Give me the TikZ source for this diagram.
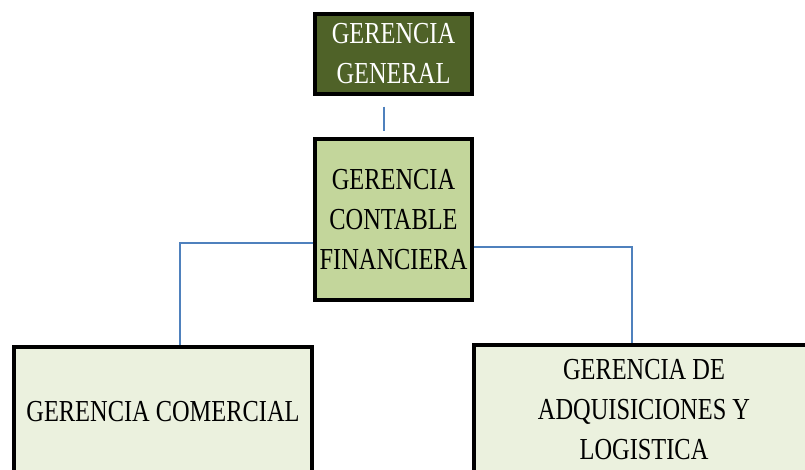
\documentclass[tikz,border=0pt]{standalone}
\usepackage{fontspec}
\newfontfamily\orgfont[FakeStretch=0.8]{Liberation Serif}
\usepackage{tikz}
\usetikzlibrary{positioning, calc}

\definecolor{olivo}{HTML}{4F6228}
\definecolor{verdemedio}{HTML}{C3D69B}
\definecolor{verdeclaro}{HTML}{EBF1DE}
\definecolor{azullinea}{HTML}{4F81BD}

\begin{document}
\begin{tikzpicture}[x=1pt, y=-1pt,
    box/.style={draw=black, line width=3.5pt, align=center, inner sep=0pt,
      font=\orgfont\fontsize{30.5}{40}\selectfont},
    conn/.style={draw=azullinea, line width=1.1pt}]
    \clip (0,0) rectangle (805,470);

    \node[box, fill=olivo, text=white, minimum width=157pt, minimum height=80pt] (gg) at (393.5,54) {GERENCIA\\GENERAL};
    \node[box, fill=verdemedio, minimum width=157pt, minimum height=161pt] (gcf) at (393.5,219.5) {GERENCIA\\CONTABLE\\FINANCIERA};
    \node[box, fill=verdeclaro, minimum width=298pt, minimum height=130pt] (gc) at (163,412) {GERENCIA COMERCIAL};
    \node[box, fill=verdeclaro, minimum width=340pt, minimum height=130pt] (gal) at (644,410) {GERENCIA DE\\ADQUISICIONES Y\\LOGISTICA};

    \draw[conn, shorten <=11pt, shorten >=6pt] ([xshift=-9.5pt]gg.south) -- ([xshift=-9.5pt]gg.south |- gcf.north);
    \draw[conn] ([yshift=-23.5pt]gcf.west) -| ([xshift=17pt]gc.north);
    \draw[conn] ([yshift=-27.5pt]gcf.east) -| ([xshift=-12pt]gal.north);

    \end{tikzpicture}
\end{document}
